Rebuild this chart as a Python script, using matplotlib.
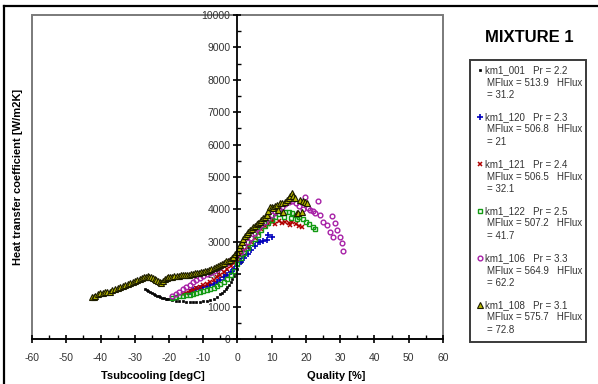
import matplotlib
matplotlib.use('Agg')
import matplotlib.pyplot as plt
from matplotlib.patches import Rectangle
from matplotlib.lines import Line2D
from matplotlib.ticker import MultipleLocator

plt.rcParams['font.family'] = ['Liberation Sans', 'DejaVu Sans']

# run info for the legend
runNames = ['km1_001', 'km1_120', 'km1_121', 'km1_122', 'km1_106', 'km1_108']
prandtl = ['2.2', '2.3', '2.4', '2.5', '3.3', '3.1']
massFlux = ['513.9', '506.8', '506.5', '507.2', '564.9', '575.7']
heatFlux = ['31.2', '21', '32.1', '41.7', '62.2', '72.8']

# km1_001
x001 = [-27, -26.5, -26, -25.5, -25, -24.5, -24, -23.5, -23, -22.5, -22, -21.5, -21, -20.5, -20,
        -19, -18, -17, -16, -15, -14, -13, -12, -11, -10,
        -9, -8, -7, -6, -5, -4.5, -4, -3.5, -3, -2.5, -2, -1.5, -1, 0, 1, 2, 3]
y001 = [1550, 1510, 1480, 1450, 1420, 1390, 1370, 1340, 1320, 1300, 1280, 1265, 1250, 1235, 1220,
        1200, 1180, 1170, 1160, 1150, 1145, 1140, 1140, 1145, 1160,
        1180, 1210, 1250, 1300, 1380, 1430, 1480, 1540, 1600, 1680, 1760, 1850, 1950, 2150, 2380, 2600, 2850]

# km1_120
x120 = [-14, -13, -12, -11, -10, -9, -8, -7, -6, -5, -4, -3, -2, -1, 0, 1, 2, 3, 4, 5, 6, 6.6,
        7.5, 8.5, 9.0, 10.0]
y120 = [1450, 1500, 1540, 1580, 1610, 1640, 1660, 1700, 1760, 1830, 1900, 1980, 2060, 2150, 2250,
        2370, 2500, 2630, 2760, 2880, 2980, 3000, 3040, 3060, 3200, 3140]

# km1_121
x121 = [-16, -15, -14, -13, -12, -11, -10, -9, -8, -7, -6, -5, -4, -3, -2, -1, 0, 1, 2, 3, 4, 5,
        6, 7, 8, 9, 10, 10.5, 11, 12, 13, 14, 15, 15.3, 16, 17, 18, 18.7]
y121 = [1380, 1420, 1470, 1510, 1560, 1610, 1660, 1710, 1770, 1830, 1900, 1980, 2060, 2150, 2250,
        2360, 2480, 2610, 2740, 2870, 3000, 3130, 3260, 3380, 3480, 3560, 3620, 3670, 3560, 3640,
        3590, 3620, 3570, 3520, 3610, 3560, 3500, 3470]

# km1_122
x122 = [-19, -18, -17, -16, -15, -14, -13, -12, -11, -10, -9, -8, -7, -6, -5, -4, -3, -2, -1, 0,
        1, 2, 3, 4, 5, 6, 7, 8, 9, 10, 11, 12, 13, 14, 15, 16, 17, 18, 19, 20, 21, 22, 22.6,
        13.5, 15.5, 17.5]
y122 = [1280, 1300, 1320, 1340, 1350, 1370, 1390, 1410, 1440, 1470, 1500, 1540, 1580, 1630, 1690,
        1760, 1850, 1960, 2100, 2300, 2500, 2650, 2800, 2950, 3100, 3200, 3350, 3480, 3580, 3680,
        3780, 3850, 3900, 3930, 3920, 3880, 3830, 3760, 3690, 3620, 3550, 3470, 3400,
        3760, 3740, 3700]

# km1_106
x106 = [-19, -18, -17, -16, -15, -14, -13, -12, -11, -10, -9, -8, -7, -6, -5, -4, -3, -2, -1, 0,
        1, 2, 3, 4, 5, 6, 7, 8, 9, 10, 11, 12, 13, 14, 15, 16, 17, 18, 19, 19.7, 20.5, 21.2, 22.0,
        22.6, 23.6, 24.1, 25.1, 26.0, 27.0, 27.5, 28.0, 28.5, 29.0, 29.9, 30.4, 30.9]
y106 = [1320, 1400, 1460, 1530, 1610, 1680, 1750, 1820, 1880, 1940, 2000, 2040, 2100, 2160, 2230,
        2300, 2360, 2430, 2500, 2580, 2700, 2830, 2980, 3120, 3280, 3420, 3530, 3620, 3720, 3820,
        3930, 4000, 4080, 4180, 4220, 4260, 4190, 4100, 4000, 4390, 4050, 3980, 3950, 3880, 4270,
        3830, 3620, 3520, 3310, 3800, 3160, 3570, 3360, 3140, 2950, 2730]

# km1_108
x108 = [-42.6, -42.0, -41.5, -40.8, -40.1, -39.4, -38.8, -38.0, -37.2, -36.5,
        -35.8, -35.0, -34.3, -33.5, -32.8, -32.1, -31.4, -30.6, -29.8, -29.2,
        -28.6, -28.0, -27.4, -26.8, -26.2, -25.7, -25.2, -24.7, -24.2, -23.7,
        -23.2, -22.7, -22.2, -21.7, -21.2, -20.7, -20.2, -19.6, -19.0, -18.4,
        -17.8, -17.2, -16.6, -16.0, -15.4, -14.8, -14.2, -13.6, -13.0, -12.4,
        -11.8, -11.2, -10.6, -10.0, -9.4, -8.8, -8.2, -7.6, -7.0, -6.4,
        -5.8, -5.2, -4.6, -4.0, -3.4, -2.8, -2.2, -1.7, -1.2, -0.7,
        -0.2, 0.3, 0.8, 1.2, 1.7, 2.2, 2.7, 3.1, 3.6, 4.1,
        4.6, 5.1, 5.6, 6.1, 6.6, 7.0, 7.5, 8.0, 8.5, 9.0,
        9.5, 10.0, 10.5, 11.0, 11.4, 11.9, 12.4, 12.9, 13.4, 13.9,
        14.4, 14.9, 15.3, 15.8, 16.3, 16.8, 17.3, 17.7, 18.2, 18.7,
        19.2, 19.7, 20.2]
y108 = [1290, 1310, 1340, 1380, 1410, 1420, 1440, 1440, 1460, 1500,
        1540, 1580, 1610, 1640, 1660, 1690, 1720, 1760, 1790, 1810,
        1840, 1870, 1900, 1920, 1930, 1920, 1900, 1870, 1840, 1810,
        1780, 1750, 1720, 1800, 1850, 1870, 1900, 1910, 1920, 1940,
        1950, 1950, 1960, 1960, 1970, 1980, 1990, 2000, 2010, 2030,
        2040, 2050, 2060, 2080, 2090, 2110, 2140, 2170, 2200, 2220,
        2250, 2290, 2320, 2360, 2400, 2420, 2450, 2490, 2530, 2610,
        2700, 2800, 2900, 3000, 3100, 3170, 3230, 3300, 3360, 3400,
        3450, 3500, 3550, 3590, 3620, 3670, 3720, 3780, 3830, 3950,
        4080, 4060, 4050, 4100, 4140, 3980, 4190, 4190, 3930, 4240,
        4290, 4350, 4400, 4500, 4420, 4340, 3880, 3900, 4290, 3930,
        4250, 4220, 4190]

# marker styles, same order as runNames
styles = [
    dict(marker='s', ms=2.0, mfc='black', mec='black', mew=0.5),
    dict(marker='+', ms=4.5, mfc='#0000bb', mec='#0000bb', mew=1.2),
    dict(marker='x', ms=3.5, mfc='#b00000', mec='#b00000', mew=1.1),
    dict(marker='s', ms=3.0, mfc='none', mec='#129a12', mew=1.0),
    dict(marker='o', ms=3.4, mfc='none', mec='#a61fa6', mew=1.0),
    dict(marker='^', ms=4.2, mfc='#b8b800', mec='#1c1c00', mew=0.8),
]
series = [(x001, y001), (x120, y120), (x121, y121), (x122, y122), (x106, y106), (x108, y108)]

W, H = 598, 384
fig = plt.figure(figsize=(W / 100, H / 100), dpi=100)
ax = fig.add_axes([32 / W, 1 - 339 / H, 411 / W, 324 / H])

for (xs, ys), st in zip(series, styles):
    ax.plot(xs, ys, linestyle='none', **st)

ax.set_xlim(-60, 60)
ax.set_ylim(0, 10000)

# axes crossing at zero
ax.spines['left'].set_position(('data', 0))
ax.spines['top'].set_visible(False)
ax.spines['right'].set_visible(False)
ax.spines['left'].set_linewidth(1.3)
ax.spines['bottom'].set_linewidth(1.3)
ax.add_patch(Rectangle((0, 0), 1, 1, transform=ax.transAxes, fill=False,
                       edgecolor='#7a7a7a', lw=1.4, clip_on=False, zorder=0))

ax.xaxis.set_major_locator(MultipleLocator(10))
ax.xaxis.set_minor_locator(MultipleLocator(5))
ax.yaxis.set_major_locator(MultipleLocator(1000))
ax.yaxis.set_minor_locator(MultipleLocator(500))
ax.tick_params(which='major', direction='inout', length=6, width=1.2, labelsize=7.5,
               colors='black')
ax.tick_params(which='minor', direction='in', length=3, width=1.0)
ax.tick_params(axis='x', which='major', pad=7)
ax.tick_params(axis='y', which='major', pad=2)
ax.set_xticklabels([str(int(v)) for v in ax.get_xticks()], color='#333333')
ax.set_yticklabels([str(int(v)) for v in ax.get_yticks()], color='#333333')
ax.set_xlim(-60, 60)
ax.set_ylim(0, 10000)

# axis titles
fig.text(153 / W, 1 - 376 / H, 'Tsubcooling [degC]', ha='center', va='center',
         fontsize=8, fontweight='bold')
fig.text(336 / W, 1 - 376 / H, 'Quality [%]', ha='center', va='center',
         fontsize=8, fontweight='bold')
fig.text(18 / W, 1 - 177 / H, 'Heat transfer coefficient [W/m2K]', ha='center', va='center',
         rotation=90, fontsize=8, fontweight='bold')

fig.text(529 / W, 1 - 38 / H, 'MIXTURE 1', ha='center', va='center',
         fontsize=12, fontweight='bold')

# outer chart border (left and top visible)
fig.add_artist(Line2D([4 / W, 4 / W], [0, 1 - 6 / H], color='black', lw=1.6))
fig.add_artist(Line2D([4 / W, 1], [1 - 6 / H, 1 - 6 / H], color='black', lw=1.6))

# legend box
fig.add_artist(Rectangle((470 / W, 1 - 342 / H), 116 / W, 282 / H, transform=fig.transFigure,
                         fill=False, edgecolor='#3a3a3a', lw=1.4))
for i, name in enumerate(runNames):
    top = 70 + 47 * i
    fig.add_artist(Line2D([480 / W], [1 - top / H], linestyle='none', **styles[i]))
    fig.text(485 / W, 1 - top / H, name + '   Pr = ' + prandtl[i], ha='left', va='center',
             fontsize=7, color='#333333')
    fig.text(487 / W, 1 - (top + 12.5) / H, 'MFlux = ' + massFlux[i] + '   HFlux', ha='left',
             va='center', fontsize=7, color='#333333')
    fig.text(487 / W, 1 - (top + 25) / H, '= ' + heatFlux[i], ha='left', va='center',
             fontsize=7, color='#333333')

fig.savefig('out.png', dpi=100)
